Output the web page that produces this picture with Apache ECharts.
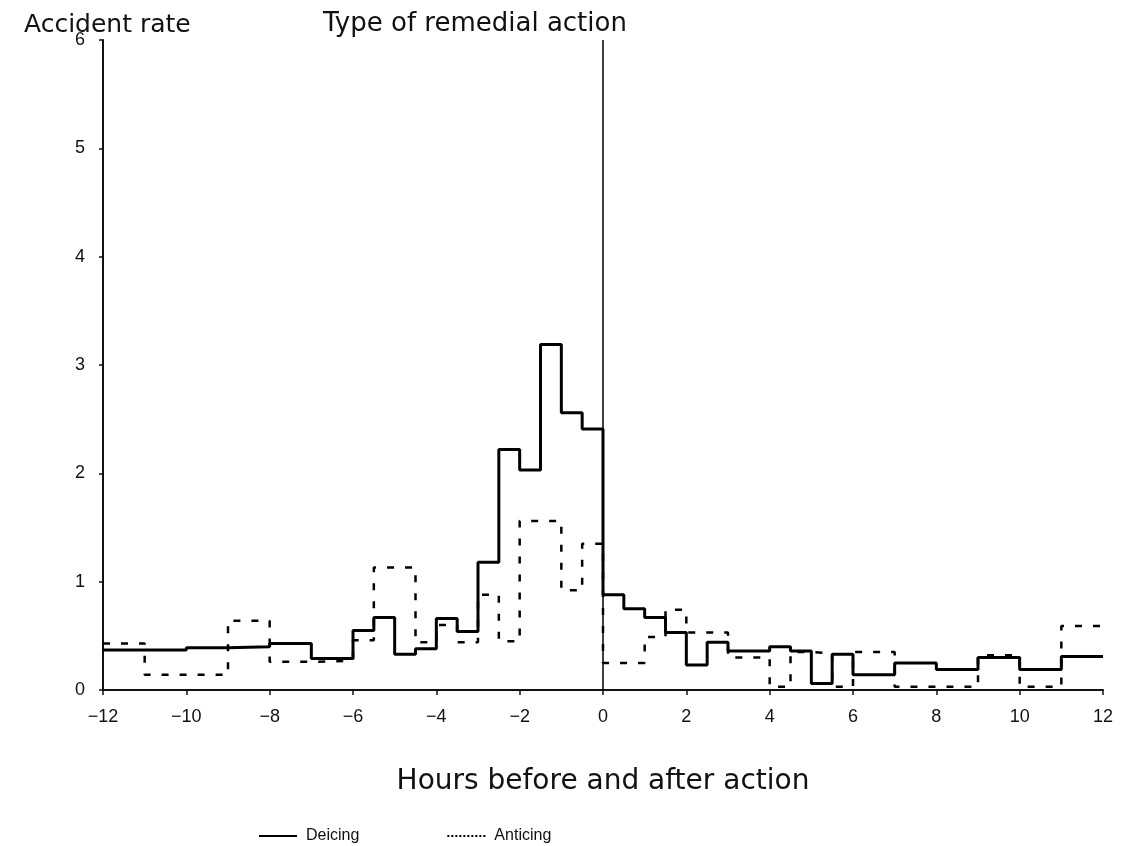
<!DOCTYPE html>
<html>
<head>
<meta charset="utf-8">
<script src="https://cdn.jsdelivr.net/npm/echarts@6/dist/echarts.min.js"></script>
<style>
html,body{margin:0;padding:0;background:#fff;}
#chart{width:1138px;height:846px;}
</style>
</head>
<body>
<div id="chart"></div>
<script>
// Bin left edges and step values (rate held until next edge); final edge = 12
const deicingEdges = [-12,-11,-10,-9,-8,-7,-6,-5.5,-5,-4.5,-4,-3.5,-3,-2.5,-2,-1.5,-1,-0.5,0,0.5,1,1.5,2,2.5,3,4,4.5,5,5.5,6,7,8,9,10,11];
const deicingValues = [0.37,0.37,0.39,0.40,0.43,0.29,0.55,0.67,0.33,0.38,0.66,0.54,1.18,2.22,2.03,3.19,2.56,2.41,0.88,0.75,0.67,0.53,0.23,0.44,0.36,0.40,0.36,0.06,0.33,0.14,0.25,0.19,0.30,0.19,0.31];
const anticingEdges = [-12,-11,-9,-8,-7,-6,-5.5,-4.5,-4,-3.5,-3,-2.5,-2,-1,-0.5,0,1,1.5,2,3,4,4.5,5,5.5,6,7,9,10,11];
const anticingValues = [0.43,0.14,0.64,0.26,0.27,0.46,1.13,0.44,0.60,0.44,0.88,0.45,1.56,0.92,1.35,0.25,0.49,0.74,0.53,0.30,0.03,0.35,0.34,0.03,0.35,0.03,0.32,0.03,0.59];
const xEnd = 12;
const seriesNames = ['Deicing','Anticing'];

function stepData(edges, values){
  const d = edges.map((e,i)=>[e, values[i]]);
  d.push([xEnd, values[values.length-1]]);
  return d;
}
const fmtX = v => v < 0 ? '\u2212' + Math.abs(v) : String(v);
const FONT = 'DejaVu Sans, Liberation Sans, sans-serif';
const TICKFONT = 'Liberation Sans, Arial, sans-serif';
const solidIcon = 'path://M0,0L38,0L38,2L0,2Z';
let dotPath = '';
for (let i = 0; i < 10; i++) { dotPath += 'M' + (i*4) + ',0h2v2h-2Z'; }
const dottedIcon = 'path://' + dotPath;

const chart = echarts.init(document.getElementById('chart'), null, {renderer:'canvas'});
chart.setOption({
  backgroundColor:'#ffffff',
  animation:false,
  title:[
    {text:'Accident rate', left:19, top:8, textStyle:{fontFamily:FONT, fontSize:25, fontWeight:'normal', color:'#111'}},
    {text:'Type of remedial action', left:318, top:6, textStyle:{fontFamily:FONT, fontSize:26, fontWeight:'normal', color:'#111'}}
  ],
  legend:{
    top:823, left:254, itemGap:88, itemWidth:38, itemHeight:2,
    textStyle:{fontFamily:TICKFONT, fontSize:16, color:'#111', padding:[0,0,0,4]},
    data:[
      {name:seriesNames[0], icon:solidIcon, itemStyle:{color:'#000', borderWidth:0}},
      {name:seriesNames[1], icon:dottedIcon, itemStyle:{color:'#000', borderWidth:0}}
    ]
  },
  grid:{left:103, right:35, top:40, bottom:156, containLabel:false},
  xAxis:{
    type:'value', min:-12, max:12, interval:2,
    name:'Hours before and after action', nameLocation:'middle', nameGap:78,
    nameTextStyle:{fontFamily:FONT, fontSize:28, color:'#111'},
    axisLine:{onZero:false, lineStyle:{color:'#111', width:2}},
    axisTick:{show:true, length:5, lineStyle:{color:'#111', width:1.5}},
    axisLabel:{formatter:fmtX, fontFamily:TICKFONT, fontSize:18, color:'#111', margin:18},
    splitLine:{show:false}
  },
  yAxis:{
    type:'value', min:0, max:6, interval:1,
    axisLine:{show:true, onZero:false, lineStyle:{color:'#111', width:2}},
    axisTick:{show:true, length:4, lineStyle:{color:'#111', width:1.5}},
    axisLabel:{fontFamily:TICKFONT, fontSize:18, color:'#111', margin:18},
    splitLine:{show:false}
  },
  series:[
    {
      name:seriesNames[0], type:'line', step:'end', symbol:'none',
      data:stepData(deicingEdges, deicingValues),
      lineStyle:{color:'#000', width:3, type:'solid'},
      itemStyle:{color:'#000'},
      markLine:{
        silent:true, symbol:'none', label:{show:false},
        lineStyle:{color:'#000', width:1.5, type:'solid'},
        data:[[{coord:[0,0]},{coord:[0,6]}]]
      },
      z:3
    },
    {
      name:seriesNames[1], type:'line', step:'end', symbol:'none',
      data:stepData(anticingEdges, anticingValues),
      lineStyle:{color:'#000', width:2.5, type:[7,11]},
      itemStyle:{color:'#000'},
      z:2
    }
  ]
});
</script>
</body>
</html>
